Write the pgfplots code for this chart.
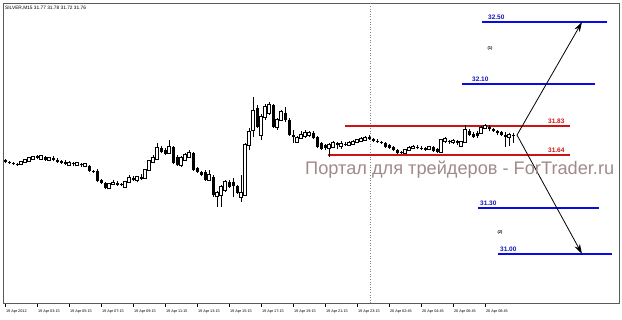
\documentclass[border=0pt]{standalone}
\usepackage{fontspec}
\setmainfont{Liberation Sans}
\usepackage{pgfplots}
\pgfplotsset{compat=1.18}
\usepackage{pgfplotstable}
\usetikzlibrary{arrows.meta}
\definecolor{lvred}{RGB}{205,20,20}
\definecolor{lvblue}{RGB}{10,10,230}
\definecolor{lbltxt}{RGB}{20,20,190}
\definecolor{wmark}{RGB}{160,138,138}
\definecolor{frm}{RGB}{90,90,90}

% x o h l c  (white candles: close > open)
\pgfplotstableread{
x o h l c
4 31.582 31.601 31.575 31.595
5 31.595 31.614 31.588 31.608
6 31.601 31.621 31.595 31.621
7 31.614 31.634 31.608 31.627
9 31.614 31.640 31.608 31.634
11 31.608 31.621 31.601 31.621
16 31.575 31.601 31.569 31.588
18 31.575 31.595 31.569 31.588
20 31.569 31.588 31.562 31.582
26 31.427 31.459 31.420 31.453
27 31.453 31.478 31.446 31.459
30 31.433 31.472 31.427 31.465
31 31.465 31.511 31.459 31.491
33 31.478 31.504 31.465 31.498
35 31.491 31.550 31.485 31.543
36 31.543 31.608 31.537 31.601
37 31.595 31.640 31.588 31.621
38 31.614 31.718 31.608 31.685
41 31.653 31.737 31.647 31.692
44 31.575 31.634 31.562 31.621
45 31.608 31.653 31.601 31.640
46 31.627 31.672 31.621 31.653
51 31.478 31.543 31.472 31.511
53 31.375 31.407 31.304 31.394
54 31.381 31.446 31.304 31.433
55 31.414 31.478 31.401 31.465
59 31.368 31.511 31.336 31.394
60 31.381 31.718 31.375 31.705
61 31.705 31.815 31.672 31.789
62 31.802 32.015 31.756 31.925
64 31.769 31.905 31.737 31.886
65 31.886 31.970 31.866 31.950
66 31.912 31.983 31.899 31.963
68 31.821 31.879 31.802 31.866
69 31.866 31.931 31.860 31.918
73 31.724 31.763 31.718 31.750
74 31.750 31.795 31.744 31.769
75 31.763 31.802 31.750 31.782
76 31.769 31.795 31.756 31.782
81 31.685 31.718 31.627 31.705
82 31.692 31.731 31.685 31.718
84 31.698 31.731 31.679 31.711
86 31.705 31.731 31.698 31.718
87 31.711 31.737 31.705 31.724
88 31.724 31.744 31.718 31.737
89 31.731 31.756 31.724 31.744
90 31.737 31.763 31.731 31.750
100 31.653 31.679 31.647 31.672
101 31.672 31.698 31.666 31.685
102 31.685 31.705 31.679 31.692
106 31.679 31.698 31.672 31.692
109 31.659 31.744 31.653 31.737
110 31.731 31.756 31.718 31.744
112 31.724 31.744 31.711 31.731
114 31.698 31.731 31.692 31.724
115 31.724 31.834 31.718 31.802
119 31.782 31.828 31.776 31.815
120 31.815 31.841 31.808 31.828
126 31.756 31.782 31.698 31.769
}\whitecandles

% x o h l c  (black candles: close < open)
\pgfplotstableread{
x o h l c
0 31.608 31.614 31.588 31.595
1 31.595 31.601 31.582 31.588
2 31.588 31.595 31.575 31.582
3 31.582 31.588 31.569 31.575
8 31.634 31.640 31.614 31.621
10 31.627 31.634 31.601 31.608
12 31.621 31.634 31.601 31.608
13 31.608 31.621 31.588 31.595
14 31.601 31.608 31.582 31.588
15 31.595 31.608 31.575 31.582
17 31.588 31.595 31.569 31.582
19 31.582 31.588 31.562 31.575
21 31.569 31.575 31.530 31.537
22 31.537 31.543 31.524 31.530
23 31.537 31.550 31.465 31.472
24 31.478 31.485 31.453 31.459
25 31.459 31.465 31.420 31.427
28 31.459 31.472 31.440 31.446
29 31.453 31.459 31.440 31.446
32 31.491 31.504 31.472 31.478
34 31.498 31.517 31.478 31.485
39 31.685 31.698 31.653 31.659
40 31.672 31.685 31.640 31.647
42 31.692 31.698 31.582 31.588
43 31.627 31.640 31.569 31.575
47 31.653 31.659 31.537 31.543
48 31.556 31.562 31.524 31.530
49 31.530 31.537 31.504 31.511
50 31.530 31.543 31.472 31.478
52 31.498 31.511 31.368 31.381
56 31.465 31.478 31.427 31.433
57 31.465 31.491 31.368 31.440
58 31.440 31.446 31.388 31.394
63 31.944 31.963 31.815 31.821
67 31.963 31.970 31.815 31.821
70 31.912 31.950 31.853 31.866
71 31.866 31.879 31.763 31.769
72 31.769 31.802 31.718 31.756
77 31.782 31.795 31.744 31.750
78 31.756 31.763 31.685 31.692
79 31.718 31.724 31.672 31.679
80 31.705 31.711 31.672 31.685
83 31.718 31.724 31.679 31.705
85 31.711 31.724 31.698 31.705
91 31.756 31.769 31.737 31.744
92 31.744 31.750 31.724 31.731
93 31.731 31.744 31.718 31.724
94 31.724 31.731 31.711 31.718
95 31.718 31.724 31.685 31.692
96 31.705 31.711 31.679 31.685
97 31.692 31.698 31.666 31.672
98 31.672 31.679 31.647 31.653
99 31.659 31.666 31.647 31.653
103 31.692 31.705 31.679 31.685
104 31.685 31.698 31.672 31.679
105 31.685 31.692 31.666 31.672
107 31.692 31.698 31.659 31.666
108 31.679 31.685 31.653 31.659
111 31.731 31.737 31.711 31.724
113 31.731 31.737 31.705 31.718
116 31.795 31.808 31.763 31.769
117 31.776 31.789 31.750 31.756
118 31.782 31.795 31.750 31.763
121 31.821 31.834 31.795 31.808
122 31.808 31.815 31.789 31.795
123 31.795 31.802 31.769 31.782
124 31.789 31.795 31.763 31.769
125 31.769 31.789 31.692 31.756
127 31.770 31.780 31.720 31.760
}\blackcandles

\begin{document}
\begin{tikzpicture}
\path[use as bounding box] (-3pt,-17pt) rectangle (619pt,303pt);
\begin{axis}[
  at={(0pt,0pt)}, anchor=south west,
  scale only axis, width=616pt, height=300pt,
  xmin=-0.5, xmax=153.5, ymin=30.683, ymax=32.623,
  clip=false,
  axis line style={draw=frm, line width=0.8pt},
  ytick=\empty,
  xtick={0,8,...,120},
  xticklabels={19 Apr 2012,19 Apr 03:15,19 Apr 05:15,19 Apr 07:15,19 Apr 09:15,19 Apr 11:15,19 Apr 13:15,19 Apr 15:15,19 Apr 17:15,19 Apr 19:15,19 Apr 21:15,19 Apr 23:15,20 Apr 02:45,20 Apr 04:45,20 Apr 06:45,20 Apr 08:45},
  xtick pos=lower,
  tick align=outside,
  major tick length=4pt,
  x tick style={draw=black, line width=0.4pt},
  xticklabel style={anchor=north west, font=\fontsize{3.8}{4}\selectfont, inner sep=0pt, xshift=0.8pt, yshift=-2.2pt},
  /pgf/number format/assume math mode=true,
]
% period separator
\addplot[draw=gray, dotted, line width=0.6pt] coordinates {(91.25,30.683) (91.25,32.623)};

% horizontal levels
\addplot[draw=lvred, line width=1.4pt] coordinates {(85,31.828) (141.25,31.828)};
\addplot[draw=lvred, line width=1.4pt] coordinates {(80.75,31.64) (141.25,31.64)};
\addplot[draw=lvblue, line width=1.8pt] coordinates {(119.25,32.50) (150.5,32.50)};
\addplot[draw=lvblue, line width=1.8pt] coordinates {(114.25,32.10) (147.5,32.10)};
\addplot[draw=lvblue, line width=1.8pt] coordinates {(118.25,31.297) (148.5,31.297)};
\addplot[draw=lvblue, line width=1.8pt] coordinates {(123.25,31.00) (151.75,31.00)};

% wicks
\addplot[draw=none, mark=none, error bars/.cd, y dir=plus, y explicit, error mark=none,
  error bar style={draw=black, line width=0.7pt}]
  table[x=x, y=l, y error expr=\thisrow{h}-\thisrow{l}] {\whitecandles};
\addplot[draw=none, mark=none, error bars/.cd, y dir=plus, y explicit, error mark=none,
  error bar style={draw=black, line width=0.7pt}]
  table[x=x, y=l, y error expr=\thisrow{h}-\thisrow{l}] {\blackcandles};

% black bodies
\addplot[draw=none, mark=none, error bars/.cd, y dir=plus, y explicit, error mark=none,
  error bar style={draw=black, line width=3pt}]
  table[x=x, y=c, y error expr=\thisrow{o}-\thisrow{c}] {\blackcandles};

% white bodies: outline then fill
\addplot[draw=none, mark=none, error bars/.cd, y dir=plus, y explicit, error mark=none,
  error bar style={draw=black, line width=3.2pt}]
  table[x=x, y expr=\thisrow{o}-0.005, y error expr=\thisrow{c}-\thisrow{o}+0.01] {\whitecandles};
\addplot[draw=none, mark=none, error bars/.cd, y dir=plus, y explicit, error mark=none,
  error bar style={draw=white, line width=1.4pt}]
  table[x=x, y=o, y error expr=\thisrow{c}-\thisrow{o}] {\whitecandles};

% arrows
\addplot[draw=black, line width=0.8pt, -{Stealth[length=10pt, width=6pt]}] coordinates {(128,31.769) (144.25,32.50)};
\addplot[draw=black, line width=0.8pt, -{Stealth[length=10pt, width=6pt]}] coordinates {(128,31.769) (144.25,31.00)};

% labels
\node[anchor=south west, inner sep=0pt, text=lvred, font=\fontsize{6.5}{7}\bfseries\selectfont, yshift=2pt] at (axis cs:135.75,31.83) {31.83};
\node[anchor=south west, inner sep=0pt, text=lvred, font=\fontsize{6.5}{7}\bfseries\selectfont, yshift=2pt] at (axis cs:135.75,31.64) {31.64};
\node[anchor=south west, inner sep=0pt, text=lbltxt, font=\fontsize{6.5}{7}\bfseries\selectfont, yshift=2.2pt] at (axis cs:120.75,32.50) {32.50};
\node[anchor=south west, inner sep=0pt, text=lbltxt, font=\fontsize{6.5}{7}\bfseries\selectfont, yshift=2.2pt] at (axis cs:116.75,32.10) {32.10};
\node[anchor=south west, inner sep=0pt, text=lbltxt, font=\fontsize{6.5}{7}\bfseries\selectfont, yshift=2.2pt] at (axis cs:118.75,31.30) {31.30};
\node[anchor=south west, inner sep=0pt, text=lbltxt, font=\fontsize{6.5}{7}\bfseries\selectfont, yshift=2.2pt] at (axis cs:123.75,31.00) {31.00};
\node[inner sep=0pt, font=\fontsize{4}{4}\bfseries\selectfont] at (axis cs:121.25,32.332) {(1)};
\node[inner sep=0pt, font=\fontsize{4}{4}\bfseries\selectfont] at (axis cs:123.75,31.142) {(2)};

% title and watermark
\node[anchor=north west, inner sep=0pt, font=\fontsize{4.8}{5}\selectfont] at ([xshift=2pt,yshift=-3pt]rel axis cs:0,1) {SILVER,M15 31.77 31.78 31.72 31.76};
\node[anchor=base west, inner sep=0pt, text=wmark, font=\fontsize{18.2}{19}\selectfont] at (axis cs:75,31.511) {Портал для трейдеров - ForTrader.ru};
\end{axis}
\end{tikzpicture}
\end{document}
